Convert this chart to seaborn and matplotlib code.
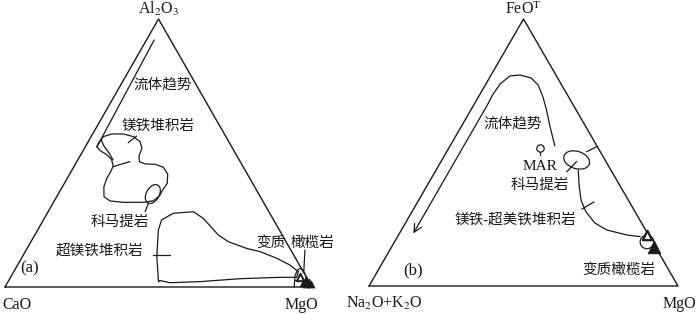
import numpy as np
import matplotlib
matplotlib.use('Agg')
import matplotlib.pyplot as plt
from matplotlib.patches import Ellipse, Circle
import seaborn as sns

sns.set_style('white')
plt.rcParams['font.family'] = ['Liberation Serif', 'Noto Sans CJK SC']
plt.rcParams['mathtext.fontset'] = 'stix'

H = np.sqrt(3) / 2
INK = '#1a1a1a'

# ---------------- data, (top %, right %) of each ternary ----------------
# (a) Al2O3 (top) - CaO (left) - MgO (right)
a_trend_top = [92.2, 52.2]
a_trend_right = [2.5, 3.8]

a_mafic_top = [53.6, 56.1, 57.1, 57.1, 56.1, 54.2, 51.8, 48.9, 46.8, 45.9, 45.8, 44.7,
               42.2, 38.7, 36.5, 34.0, 32.2, 31.6, 31.6, 32.1, 33.7, 37.4, 40.6, 43.0,
               45.1, 47.6, 49.6, 50.9, 52.4]
a_mafic_right = [3.6, 4.0, 6.2, 10.0, 13.8, 16.9, 18.7, 19.2, 20.4, 22.7, 26.0, 29.2,
                 31.9, 33.5, 33.3, 33.3, 32.2, 29.3, 22.7, 18.2, 15.4, 13.5, 12.9, 12.9,
                 12.7, 10.9, 8.1, 5.5, 3.7]
a_inner_top = [55.2, 52.6, 50.0, 47.4]
a_inner_right = [3.7, 5.9, 8.9, 11.5]

a_ultra_top = [2.0, 11.3, 21.3, 25.0, 27.5, 28.1, 25.6, 19.4, 16.9, 14.4, 13.2, 10.7,
               8.2, 5.7, 3.6, 3.6, 3.1, 2.0, 1.6, 2.4]
a_ultra_right = [49.0, 43.8, 39.3, 38.5, 41.1, 47.3, 51.8, 59.8, 64.3, 71.5, 76.5, 83.2,
                 88.7, 92.7, 93.2, 87.8, 75.0, 62.5, 52.9, 49.3]

a_komatiite = (34.7, 30.8)

a_dome_top = [0.0, 4.1, 6.2, 7.0, 6.3, 4.9]
a_dome_right = [94.2, 92.4, 92.1, 92.6, 94.0, 95.3]
a_bar_top = [2.6, 2.6]
a_bar_right = [93.0, 95.8]

a_peridotite_open_top = [3.6]
a_peridotite_open_right = [94.3]
a_peridotite_top = [2.9, 2.0, 1.1, 1.1, 1.5]
a_peridotite_right = [96.5, 98.0, 97.5, 99.1, 96.2]

a_ticks = {
    'mafic_tick': ([44.9, 46.8], [12.8, 17.3]),
    'mafic_leader': ([53.8, 56.3], [13.2, 14.7]),
    'kom_leader': ([31.2, 28.1], [31.1, 31.6]),
    'ultra_leader': ([11.9, 11.9], [42.2, 47.8]),
    'perid_leader': ([13.8, 6.3], [90.8, 94.2]),
}

# (b) FeOT (top) - Na2O+K2O (left) - MgO (right)
b_trend_top = [52.5, 54.7, 59.9, 65.9, 70.8, 75.3, 77.9, 79.0, 78.7, 75.7, 71.2, 68.4, 19.7]
b_trend_right = [33.9, 32.3, 28.6, 24.5, 20.9, 17.1, 13.5, 9.4, 6.3, 4.6, 4.2, 4.4, 4.5]

b_cumulate_top = [43.4, 37.8, 32.2, 27.7, 23.6, 21.0, 19.1, 18.5]
b_cumulate_right = [46.0, 49.1, 52.5, 56.4, 61.3, 66.4, 73.9, 78.5]

b_komatiite = (47.2, 43.6)
b_mar = (51.6, 29.6)
b_mar_stem = ([50.3, 48.9], [30.2, 30.9])
b_peridotite_circle = (16.5, 81.7)
b_peridotite_open = ([19.1], [80.3])
b_peridotite = ([14.7], [84.9])

b_ticks = {
    'kom_edge': ([50.3, 52.2], [45.3, 47.6]),
    'kom_leader': ([46.6, 42.8], [43.9, 42.6]),
    'cum_tick': ([28.8, 31.5], [54.5, 57.1]),
}

# labels: text, (top %, right %)
a_labels = [('流体趋势', (75.4, 13.8)), ('镁铁堆积岩', (60.1, 19.8)),
            ('科马提岩', (24.3, 25.3)), ('超镁铁堆积岩', (13.4, 24.2)),
            ('变质', (16.4, 78.4)), ('橄榄岩', (16.4, 92.1))]
b_labels = [('流体趋势', (60.9, 16.2)), ('科马提岩', (37.8, 36.4)),
            ('镁铁-超美铁堆积岩', (24.7, 34.9)), ('变质橄榄岩', (6.0, 77.7))]


def tern(top, right):
    top = np.asarray(top, float) / 100
    right = np.asarray(right, float) / 100
    return right + top / 2, top * H


def curve(ax, top, right, closed=False, lw=0.9):
    top, right = list(top), list(right)
    if closed:
        top, right = top + top[:1], right + right[:1]
    x, y = tern(top, right)
    sns.lineplot(x=x, y=y, sort=False, estimator=None, color=INK, lw=lw,
                 ax=ax, legend=False)


def frame(ax):
    curve(ax, [0, 0, 100], [0, 100, 0], closed=True, lw=1.0)
    ax.set_xlim(0, 1)
    ax.set_ylim(0, H)
    ax.axis('off')


fig = plt.figure(figsize=(7, 3.14), dpi=100)
ax_a = fig.add_axes([5 / 700, 27 / 314, 307 / 700, 268 / 314])
ax_b = fig.add_axes([369 / 700, 28 / 314, 309 / 700, 267 / 314])

CN = 10.5
VTX = 11.5

# ---------------- panel (a) ----------------
frame(ax_a)
curve(ax_a, a_trend_top, a_trend_right)
curve(ax_a, a_mafic_top, a_mafic_right, closed=True)
curve(ax_a, a_inner_top, a_inner_right)
curve(ax_a, a_ultra_top, a_ultra_right, closed=True)
curve(ax_a, a_dome_top, a_dome_right)
curve(ax_a, a_bar_top, a_bar_right)
for t, r in a_ticks.values():
    curve(ax_a, t, r)
ax_a.add_patch(Ellipse(tern(*a_komatiite), 0.066, 0.042, angle=60,
                       fill=False, ec=INK, lw=0.9))
x, y = tern(a_peridotite_open_top, a_peridotite_open_right)
sns.scatterplot(x=x, y=y, marker='^', s=28, color='white', edgecolor=INK,
                linewidth=1.4, ax=ax_a, legend=False, zorder=5)
x, y = tern(a_peridotite_top, a_peridotite_right)
sns.scatterplot(x=x, y=y, marker='^', s=26, color=INK, edgecolor=INK,
                ax=ax_a, legend=False, zorder=6)

for txt, (t, r) in a_labels:
    x, y = tern(t, r)
    ax_a.text(x, y, txt, ha='center', va='center', fontsize=CN, color=INK)
x, y = tern(7.1, 4.3)
ax_a.text(x, y, '(a)', ha='center', va='center', fontsize=12, color=INK)
ax_a.text(0.5, H + 0.016, 'Al$_2$O$_3$', ha='center', va='baseline', fontsize=VTX, color=INK)
ax_a.text(0.04, -0.072, 'CaO', ha='center', va='baseline', fontsize=VTX, color=INK)
ax_a.text(0.967, -0.072, 'MgO', ha='center', va='baseline', fontsize=VTX, color=INK)

# ---------------- panel (b) ----------------
frame(ax_b)
curve(ax_b, b_trend_top[:-1], b_trend_right[:-1])
xs, ys = tern(b_trend_top[-2:], b_trend_right[-2:])
ax_b.annotate('', xy=(xs[1], ys[1]), xytext=(xs[0], ys[0]),
              arrowprops=dict(arrowstyle='->', color=INK, lw=0.9,
                              mutation_scale=14, shrinkA=0, shrinkB=0))
curve(ax_b, b_cumulate_top, b_cumulate_right)
for t, r in b_ticks.values():
    curve(ax_b, t, r)
curve(ax_b, *b_mar_stem)
ax_b.add_patch(Ellipse(tern(*b_komatiite), 0.086, 0.056, angle=-18,
                       fill=False, ec=INK, lw=0.9))
ax_b.add_patch(Circle(tern(*b_peridotite_circle), 0.022, fc='white',
                      ec=INK, lw=0.9, zorder=4))
x, y = tern(*b_mar)
sns.scatterplot(x=[x], y=[y], marker='o', s=28, color='white', edgecolor=INK,
                linewidth=0.9, ax=ax_b, legend=False, zorder=5)
x, y = tern(*b_peridotite_open)
sns.scatterplot(x=x, y=y, marker='^', s=45, color='white', edgecolor=INK,
                linewidth=1.6, ax=ax_b, legend=False, zorder=5)
x, y = tern(*b_peridotite)
sns.scatterplot(x=x, y=y, marker='^', s=80, color=INK, edgecolor=INK,
                ax=ax_b, legend=False, zorder=6)

for txt, (t, r) in b_labels:
    x, y = tern(t, r)
    ax_b.text(x, y, txt, ha='center', va='center', fontsize=CN, color=INK)
x, y = tern(44.9, 32.9)
ax_b.text(x, y, 'MAR', ha='center', va='center', fontsize=11, color=INK)
x, y = tern(6.0, 11.3)
ax_b.text(x, y, '(b)', ha='center', va='center', fontsize=12, color=INK)
ax_b.text(0.5, H + 0.016, 'FeO$^\\mathrm{T}$', ha='center', va='baseline', fontsize=VTX, color=INK)
ax_b.text(0.05, -0.072, 'Na$_2$O+K$_2$O', ha='center', va='baseline', fontsize=VTX, color=INK)
ax_b.text(1.005, -0.072, 'MgO', ha='center', va='baseline', fontsize=VTX, color=INK)

for ax in (ax_a, ax_b):
    for art in ax.get_children():
        art.set_clip_on(False)

fig.savefig('out.png', dpi=100, facecolor='white')
